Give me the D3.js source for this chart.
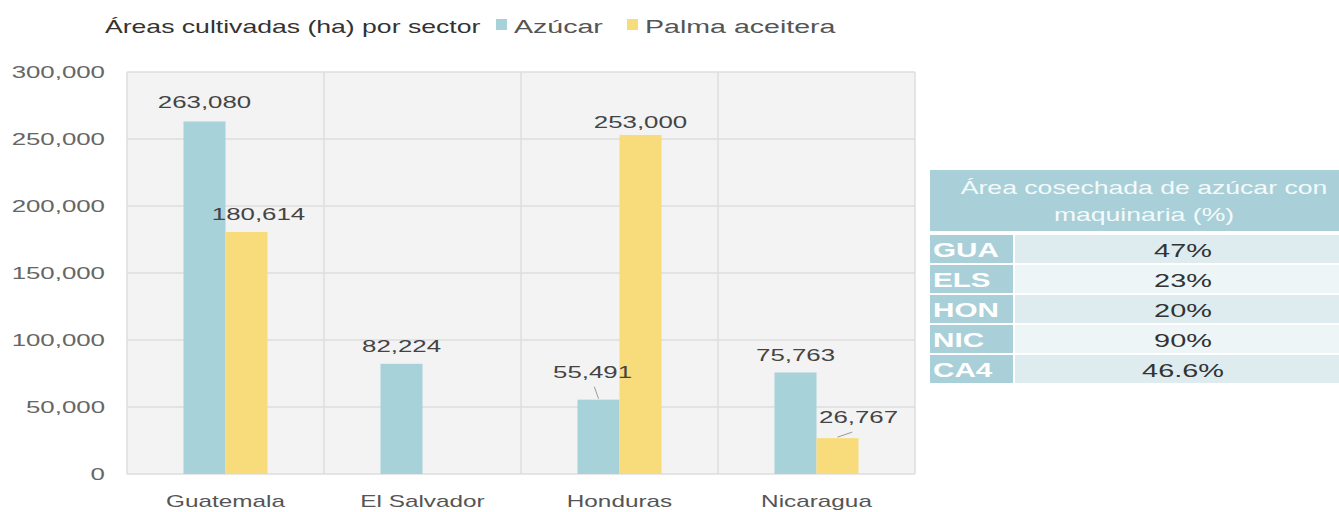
<!DOCTYPE html>
<html><head><meta charset="utf-8">
<script src="https://cdn.jsdelivr.net/npm/d3@7"></script>
<style>body{margin:0;background:#fff}svg{display:block}</style>
</head><body><svg id="c" width="1339" height="512"></svg>
<script>
const categories = ["Guatemala","El Salvador","Honduras","Nicaragua"];
const seriesNames = ["Azúcar","Palma aceitera"];
const azucar = [263080, 82224, 55491, 75763];
const palma = [180614, null, 253000, 26767];
const yTicks = [0,50000,100000,150000,200000,250000,300000];
const title = "Áreas cultivadas (ha) por sector";
const tableTitle = ["Área cosechada de azúcar con","maquinaria (%)"];
const tableCodes = ["GUA","ELS","HON","NIC","CA4"];
const tableValues = ["47%","23%","20%","90%","46.6%"];

const colors = ["#a7d2da","#f8dc7c"];
const SX = 1.52; // horizontal stretch of the original
const FONT = "'Liberation Sans', Arial, sans-serif";
const svg = d3.select("#c");

function txt(parent, x, y, s, o={}) {
  const g = parent.append("g").attr("transform", `translate(${x},${y}) scale(${o.sx || SX},1)`);
  return g.append("text").text(s)
    .attr("font-family", FONT)
    .attr("font-size", o.size || 17)
    .attr("font-weight", o.weight || "normal")
    .attr("fill", o.fill || "#555")
    .attr("text-anchor", o.anchor || "start")
    .attr("dominant-baseline", o.base || "alphabetic");
}

const L = 127, R = 915, T = 72, B = 474;
const y = d3.scaleLinear().domain([0,300000]).range([B,T]);
const x0 = d3.scaleBand().domain(categories).range([L,R]).padding(0);
const groupW = 84;
const x1 = d3.scaleBand().domain(seriesNames).range([0,groupW]).padding(0);

// plot background
svg.append("rect").attr("x",L).attr("y",T).attr("width",R-L).attr("height",B-T).attr("fill","#f3f3f3");
// horizontal grid
svg.append("g").selectAll("line").data(yTicks).join("line")
  .attr("x1",L).attr("x2",R).attr("y1",d=>y(d)).attr("y2",d=>y(d))
  .attr("stroke","#dedede").attr("stroke-width",1.5);
// vertical grid
const vb = categories.map(c=>x0(c)).concat([R]);
svg.append("g").selectAll("line").data(vb).join("line")
  .attr("x1",d=>d).attr("x2",d=>d).attr("y1",T).attr("y2",B)
  .attr("stroke","#dedede").attr("stroke-width",1.5);

// y tick labels
yTicks.forEach(t => txt(svg, 105, y(t), d3.format(",")(t), {anchor:"end", base:"central", fill:"#666", size:17}));
// x labels
categories.forEach(c => txt(svg, x0(c)+x0.bandwidth()/2, 507, c, {anchor:"middle", fill:"#555", size:16}));

// bars
const rows = [];
categories.forEach((c,i)=>{
  [azucar[i], palma[i]].forEach((v,j)=>{ if(v!=null) rows.push({c, s:seriesNames[j], v, j, i}); });
});
const off = (x0.bandwidth()-groupW)/2;
svg.append("g").selectAll("rect").data(rows).join("rect")
  .attr("x",d=>x0(d.c)+off+x1(d.s))
  .attr("y",d=>y(d.v))
  .attr("width",x1.bandwidth())
  .attr("height",d=>B-y(d.v))
  .attr("fill",d=>colors[d.j]);

// data labels (manual nudges to mimic original placement)
const nudge = {"Guatemala|0":[0,-13,false],"Guatemala|1":[12,-12,false],"El Salvador|0":[0,-12,false],
  "Honduras|0":[-6,-22,true],"Honduras|1":[0,-7,false],"Nicaragua|0":[0,-11,false],"Nicaragua|1":[21,-15,true]};
rows.forEach(d=>{
  const cx = x0(d.c)+off+x1(d.s)+x1.bandwidth()/2;
  const [dx,dy,leader] = nudge[d.c+"|"+d.j] || [0,-12,false];
  txt(svg, cx+dx, y(d.v)+dy, d3.format(",")(d.v), {anchor:"middle", fill:"#444", size:17});
  if (leader) {
    svg.append("line").attr("x1",cx+dx*0.7).attr("y1",y(d.v)+dy+9).attr("x2",cx).attr("y2",y(d.v)-1)
      .attr("stroke","#999").attr("stroke-width",1);
  }
});

// title & legend
txt(svg, 105, 33, title, {fill:"#333", size:17.5});
const legX = [496, 627];
seriesNames.forEach((s,j)=>{
  svg.append("rect").attr("x",legX[j]).attr("y",19).attr("width",11).attr("height",11).attr("fill",colors[j]);
  txt(svg, legX[j]+18, 33, s, {fill:"#555", size:18.8});
});

// table
const tx = 930, tw = 1339-930, lw = 83;
svg.append("rect").attr("x",tx).attr("y",170).attr("width",tw).attr("height",61).attr("fill","#a9d0d8");
tableTitle.forEach((t,k)=> txt(svg, 1144, 194+ k*27, t, {anchor:"middle", fill:"#f4fafb", size:17.5}));
tableCodes.forEach((c,k)=>{
  const ry = 235 + k*30;
  svg.append("rect").attr("x",tx).attr("y",ry).attr("width",lw).attr("height",28).attr("fill","#a9d0d8");
  svg.append("rect").attr("x",tx+lw+2).attr("y",ry).attr("width",tw-lw-2).attr("height",28).attr("fill",k%2===0?"#dfecef":"#edf5f7");
  txt(svg, tx+3, ry+15, c, {base:"central", fill:"#fff", weight:"bold", size:19.5});
  txt(svg, 1183, ry+15, tableValues[k], {anchor:"middle", base:"central", fill:"#333", size:19});
});
</script></body></html>
